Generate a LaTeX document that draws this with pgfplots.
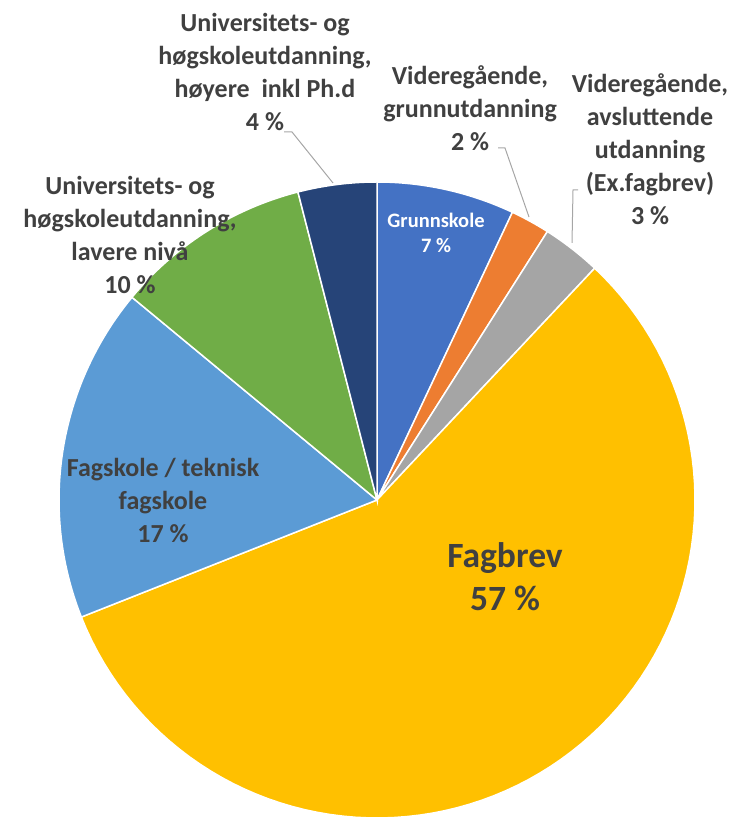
\documentclass[border=0pt]{standalone}
\usepackage{fontspec}
\setmainfont{Carlito}
\usepackage{pgfplots}
\pgfplotsset{compat=1.18}
\definecolor{cGrunn}{HTML}{4472C4}
\definecolor{cVgGrunn}{HTML}{ED7D31}
\definecolor{cVgAvsl}{HTML}{A5A5A5}
\definecolor{cFagbrev}{HTML}{FFC000}
\definecolor{cFagskole}{HTML}{5B9BD5}
\definecolor{cUniLav}{HTML}{70AD47}
\definecolor{cUniHoy}{HTML}{264478}
\definecolor{txt}{HTML}{404040}
\definecolor{lead}{HTML}{A6A6A6}
\begin{document}
\begin{tikzpicture}
% shares in percent
\def\vA{7}\def\vB{2}\def\vC{3}\def\vD{57}\def\vE{17}\def\vF{10}\def\vG{4}
\pgfmathsetmacro{\aA}{0}
\pgfmathsetmacro{\aB}{3.6*(\vA)}
\pgfmathsetmacro{\aC}{3.6*(\vA+\vB)}
\pgfmathsetmacro{\aD}{3.6*(\vA+\vB+\vC)}
\pgfmathsetmacro{\aE}{3.6*(\vA+\vB+\vC+\vD)}
\pgfmathsetmacro{\aF}{3.6*(\vA+\vB+\vC+\vD+\vE)}
\pgfmathsetmacro{\aG}{3.6*(\vA+\vB+\vC+\vD+\vE+\vF)}
\pgfmathsetmacro{\aH}{3.6*(\vA+\vB+\vC+\vD+\vE+\vF+\vG)}
\begin{axis}[width=746pt,height=818pt,scale only axis,
  xmin=0,xmax=746,ymin=0,ymax=818,hide axis,clip=false]
\pgfplotsset{every axis plot/.append style={draw=white,line width=1.5pt,samples=90,variable=\t}}
\addplot[fill=cGrunn,domain=\aA:\aB] ({377+318*sin(t)},{318+318*cos(t)}) -- (axis cs:377,318) -- cycle;
\addplot[fill=cVgGrunn,domain=\aB:\aC] ({377+318*sin(t)},{318+318*cos(t)}) -- (axis cs:377,318) -- cycle;
\addplot[fill=cVgAvsl,domain=\aC:\aD] ({377+318*sin(t)},{318+318*cos(t)}) -- (axis cs:377,318) -- cycle;
\addplot[fill=cFagbrev,domain=\aD:\aE] ({377+318*sin(t)},{318+318*cos(t)}) -- (axis cs:377,318) -- cycle;
\addplot[fill=cFagskole,domain=\aE:\aF] ({377+318*sin(t)},{318+318*cos(t)}) -- (axis cs:377,318) -- cycle;
\addplot[fill=cUniLav,domain=\aF:\aG] ({377+318*sin(t)},{318+318*cos(t)}) -- (axis cs:377,318) -- cycle;
\addplot[fill=cUniHoy,domain=\aG:\aH] ({377+318*sin(t)},{318+318*cos(t)}) -- (axis cs:377,318) -- cycle;
% leader lines
\addplot[draw=lead,line width=1pt] coordinates {(284,686) (292,686) (333,635)};
\addplot[draw=lead,line width=1pt] coordinates {(498,670) (505,670) (529,601)};
\addplot[draw=lead,line width=1pt] coordinates {(578,628) (573,628) (572,575)};
% labels
\tikzset{lab/.style={align=center,text=txt,font=\bfseries\fontsize{26}{33}\selectfont,inner sep=0pt,anchor=center}}
\node[lab] at (axis cs:265,746) {Universitets- og\\høgskoleutdanning,\\høyere\ \ inkl Ph.d\\4 \%};
\node[lab] at (axis cs:130,583) {Universitets- og\\høgskoleutdanning,\\lavere nivå\\10 \%};
\node[lab] at (axis cs:470,710) {Videregående,\\grunnutdanning\\2 \%};
\node[lab] at (axis cs:650,669) {Videregående,\\avsluttende\\utdanning\\(Ex.fagbrev)\\3 \%};
\node[lab] at (axis cs:163,318) {Fagskole / teknisk\\fagskole\\17 \%};
\node[lab,text=white,font=\bfseries\fontsize{20.5}{25}\selectfont] at (axis cs:436,585) {Grunnskole\\7 \%};
\node[lab,font=\bfseries\fontsize{35.5}{43}\selectfont] at (axis cs:505,241) {Fagbrev\\57 \%};
\end{axis}
\pgfresetboundingbox
\useasboundingbox (current axis.south west) rectangle (current axis.north east);
\end{tikzpicture}
\end{document}
